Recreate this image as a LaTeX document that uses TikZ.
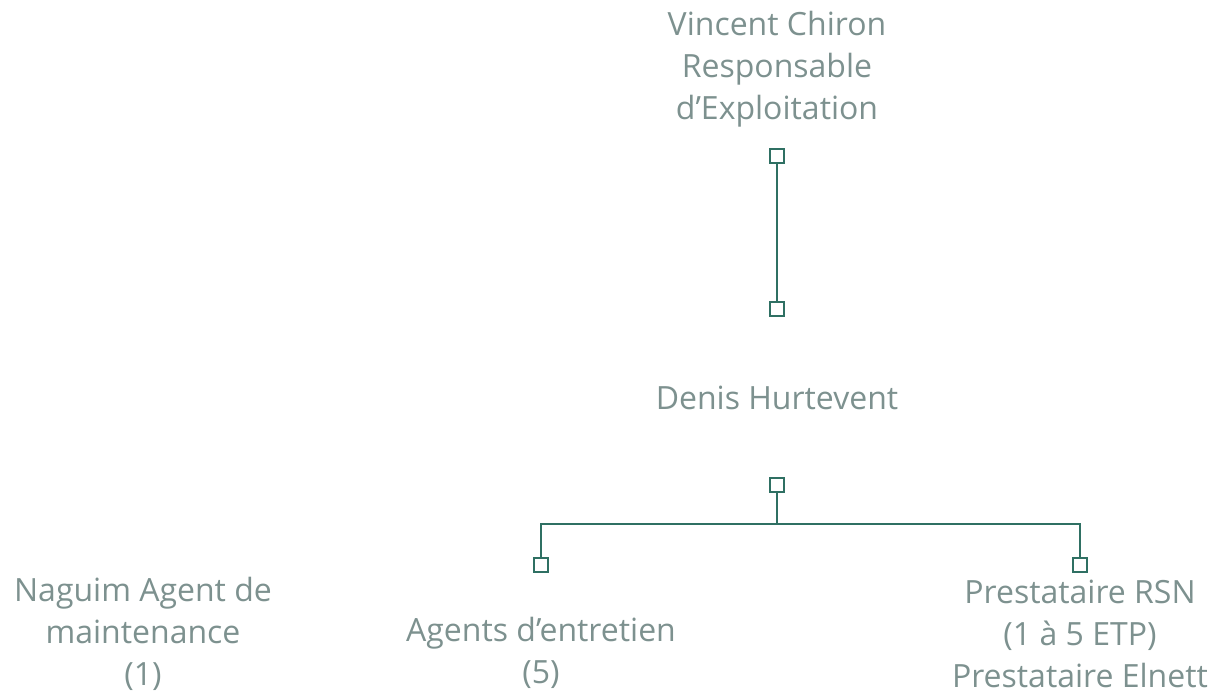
\documentclass[tikz,border=0pt]{standalone}
\usepackage{fontspec}
\setmainfont{Open Sans}
\usepackage{xcolor}
\usepackage{tikz}
\usetikzlibrary{positioning, calc}
\definecolor{linkteal}{HTML}{2F7063}
\definecolor{labelgrey}{HTML}{7D918F}
\tikzset{
    person/.style={align=center, text=labelgrey, font=\fontsize{16}{21}\selectfont, inner sep=0pt},
    port/.style={draw=linkteal, fill=white, line width=1.1pt, minimum size=7pt, inner sep=0pt, outer sep=0pt},
    link/.style={draw=linkteal, line width=1.1pt}
}

\begin{document}
\begin{tikzpicture}[x=0.5pt, y=-0.5pt]
    \useasboundingbox (0,0) rectangle (1221,694);
    % names
    \node[person] (chiron) at (777,69) {Vincent Chiron\\Responsable\\d’Exploitation};
    \node[person] (hurtevent) at (777,398) {Denis Hurtevent};
    \node[person] (naguim) at (143,634) {Naguim Agent de\\maintenance\\(1)};
    \node[person] (entretien) at (541,653) {Agents d’entretien\\(5)};
    \node[person] (presta) at (1080,634) {Prestataire RSN\\(1 à 5 ETP)\\Prestataire Elnett};
    % connectors
    \node[port] (chironout) at (777,156) {};
    \node[port] (hurtin) at (777,309) {};
    \node[port] (hurtout) at (777,485) {};
    \node[port] (entin) at (541,565) {};
    \node[port] (prestain) at (1080,565) {};
    \coordinate (fork) at (777,524);
    \draw[link] (chironout) -- (hurtin);
    \draw[link] (hurtout) -- (fork);
    \draw[link] (fork) -| (entin);
    \draw[link] (fork) -| (prestain);
\end{tikzpicture}
\end{document}
